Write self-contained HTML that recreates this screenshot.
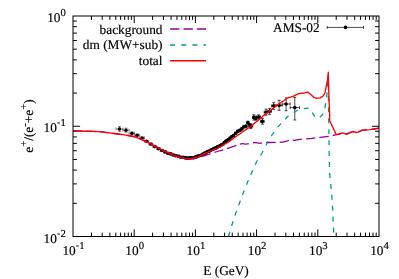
<!DOCTYPE html>
<html><head><meta charset="utf-8"><title>plot</title>
<style>html,body{margin:0;padding:0;background:#fff;}body{width:399px;height:279px;overflow:hidden;position:relative;font-family:"Liberation Serif",serif;}</style></head>
<body>
<svg width="399" height="279" viewBox="0 0 399 279" style="position:absolute;left:0;top:0">
<rect x="0" y="0" width="399" height="279" fill="#fff"/>
<path d="M91.42 236.5v-3.9M91.42 16.0v3.9M102.20 236.5v-3.9M102.20 16.0v3.9M109.85 236.5v-3.9M109.85 16.0v3.9M115.78 236.5v-3.9M115.78 16.0v3.9M120.62 236.5v-3.9M120.62 16.0v3.9M124.72 236.5v-3.9M124.72 16.0v3.9M128.27 236.5v-3.9M128.27 16.0v3.9M131.40 236.5v-3.9M131.40 16.0v3.9M134.20 236.5v-7.1M134.20 16.0v7.1M152.62 236.5v-3.9M152.62 16.0v3.9M163.40 236.5v-3.9M163.40 16.0v3.9M171.05 236.5v-3.9M171.05 16.0v3.9M176.98 236.5v-3.9M176.98 16.0v3.9M181.82 236.5v-3.9M181.82 16.0v3.9M185.92 236.5v-3.9M185.92 16.0v3.9M189.47 236.5v-3.9M189.47 16.0v3.9M192.60 236.5v-3.9M192.60 16.0v3.9M195.40 236.5v-7.1M195.40 16.0v7.1M213.82 236.5v-3.9M213.82 16.0v3.9M224.60 236.5v-3.9M224.60 16.0v3.9M232.25 236.5v-3.9M232.25 16.0v3.9M238.18 236.5v-3.9M238.18 16.0v3.9M243.02 236.5v-3.9M243.02 16.0v3.9M247.12 236.5v-3.9M247.12 16.0v3.9M250.67 236.5v-3.9M250.67 16.0v3.9M253.80 236.5v-3.9M253.80 16.0v3.9M256.60 236.5v-7.1M256.60 16.0v7.1M275.02 236.5v-3.9M275.02 16.0v3.9M285.80 236.5v-3.9M285.80 16.0v3.9M293.45 236.5v-3.9M293.45 16.0v3.9M299.38 236.5v-3.9M299.38 16.0v3.9M304.22 236.5v-3.9M304.22 16.0v3.9M308.32 236.5v-3.9M308.32 16.0v3.9M311.87 236.5v-3.9M311.87 16.0v3.9M315.00 236.5v-3.9M315.00 16.0v3.9M317.80 236.5v-7.1M317.80 16.0v7.1M336.22 236.5v-3.9M336.22 16.0v3.9M347.00 236.5v-3.9M347.00 16.0v3.9M354.65 236.5v-3.9M354.65 16.0v3.9M360.58 236.5v-3.9M360.58 16.0v3.9M365.42 236.5v-3.9M365.42 16.0v3.9M369.52 236.5v-3.9M369.52 16.0v3.9M373.07 236.5v-3.9M373.07 16.0v3.9M376.20 236.5v-3.9M376.20 16.0v3.9M73.0 93.06h3.9M379.0 93.06h-3.9M73.0 73.65h3.9M379.0 73.65h-3.9M73.0 59.87h3.9M379.0 59.87h-3.9M73.0 49.19h3.9M379.0 49.19h-3.9M73.0 40.46h3.9M379.0 40.46h-3.9M73.0 33.08h3.9M379.0 33.08h-3.9M73.0 26.68h3.9M379.0 26.68h-3.9M73.0 21.04h3.9M379.0 21.04h-3.9M73.0 126.25h7.1M379.0 126.25h-7.1M73.0 203.31h3.9M379.0 203.31h-3.9M73.0 183.90h3.9M379.0 183.90h-3.9M73.0 170.12h3.9M379.0 170.12h-3.9M73.0 159.44h3.9M379.0 159.44h-3.9M73.0 150.71h3.9M379.0 150.71h-3.9M73.0 143.33h3.9M379.0 143.33h-3.9M73.0 136.93h3.9M379.0 136.93h-3.9M73.0 131.29h3.9M379.0 131.29h-3.9" stroke="#000" stroke-width="1" fill="none"/>
<path d="M116.0 129.0H123.0M119.5 126.6V131.4M116.0 127.5v3M123.0 127.5v3M118.0 126.6h3M118.0 131.4h3M123.0 130.2H129.1M126.0 128.2V132.2M123.0 128.7v3M129.1 128.7v3M124.5 128.2h3M124.5 132.2h3M129.1 133.3H134.7M131.9 132.0V134.6M129.1 131.8v3M134.7 131.8v3M130.4 132.0h3M130.4 134.6h3M134.7 135.3H139.7M137.2 134.3V136.3M134.7 133.8v3M139.7 133.8v3M135.7 134.3h3M135.7 136.3h3M139.7 138.0H144.5M142.1 137.2V138.8M139.7 136.5v3M144.5 136.5v3M140.6 137.2h3M140.6 138.8h3M144.5 141.2H148.8M146.6 140.5V141.9M144.5 139.7v3M148.8 139.7v3M145.1 140.5h3M145.1 141.9h3M148.8 144.1H152.8M150.8 143.5V144.7M148.8 142.6v3M152.8 142.6v3M149.3 143.5h3M149.3 144.7h3M152.8 146.6H156.7M154.7 146.0V147.2M152.8 145.1v3M156.7 145.1v3M153.2 146.0h3M153.2 147.2h3M156.7 148.7H160.3M158.5 148.1V149.3M156.7 147.2v3M160.3 147.2v3M157.0 148.1h3M157.0 149.3h3M160.3 150.5H163.6M162.0 149.8V151.2M160.3 149.0v3M163.6 149.0v3M160.5 149.8h3M160.5 151.2h3M163.6 151.9H166.6M165.1 151.2V152.6M163.6 150.4v3M166.6 150.4v3M163.6 151.2h3M163.6 152.6h3M166.6 153.3H169.4M168.0 152.6V154.0M166.6 151.8v3M169.4 151.8v3M166.5 152.6h3M166.5 154.0h3M169.4 153.9H172.0M170.7 153.2V154.6M169.4 152.4v3M172.0 152.4v3M169.2 153.2h3M169.2 154.6h3M172.0 155.0H174.6M173.3 154.3V155.7M172.0 153.5v3M174.6 153.5v3M171.8 154.3h3M171.8 155.7h3M174.6 155.7H177.2M175.9 155.0V156.4M174.6 154.2v3M177.2 154.2v3M174.4 155.0h3M174.4 156.4h3M177.2 156.2H179.7M178.4 155.5V156.9M177.2 154.7v3M179.7 154.7v3M176.9 155.5h3M176.9 156.9h3M179.7 157.2H182.0M180.8 156.5V157.9M179.7 155.7v3M182.0 155.7v3M179.3 156.5h3M179.3 157.9h3M182.0 157.3H184.3M183.2 156.6V158.0M182.0 155.8v3M184.3 155.8v3M181.7 156.6h3M181.7 158.0h3M184.3 157.9H186.5M185.4 157.2V158.6M184.3 156.4v3M186.5 156.4v3M183.9 157.2h3M183.9 158.6h3M186.5 158.1H188.6M187.6 157.4V158.8M186.5 156.6v3M188.6 156.6v3M186.1 157.4h3M186.1 158.8h3M188.6 157.9H190.6M189.6 157.2V158.6M188.6 156.4v3M190.6 156.4v3M188.1 157.2h3M188.1 158.6h3M190.6 157.8H192.7M191.6 157.1V158.5M190.6 156.3v3M192.7 156.3v3M190.1 157.1h3M190.1 158.5h3M192.7 157.8H194.6M193.6 157.1V158.5M192.7 156.3v3M194.6 156.3v3M192.1 157.1h3M192.1 158.5h3M194.6 156.9H196.4M195.5 156.2V157.6M194.6 155.4v3M196.4 155.4v3M194.0 156.2h3M194.0 157.6h3M196.4 156.3H198.2M197.3 155.6V157.0M196.4 154.8v3M198.2 154.8v3M195.8 155.6h3M195.8 157.0h3M198.2 155.8H200.0M199.1 155.1V156.5M198.2 154.3v3M200.0 154.3v3M197.6 155.1h3M197.6 156.5h3M200.0 155.3H201.7M200.9 154.6V156.0M200.0 153.8v3M201.7 153.8v3M199.4 154.6h3M199.4 156.0h3M201.7 154.3H203.4M202.6 153.6V155.0M201.7 152.8v3M203.4 152.8v3M201.1 153.6h3M201.1 155.0h3M203.4 153.4H205.0M204.2 152.7V154.1M203.4 151.9v3M205.0 151.9v3M202.7 152.7h3M202.7 154.1h3M205.0 152.9H206.6M205.8 152.2V153.6M205.0 151.4v3M206.6 151.4v3M204.3 152.2h3M204.3 153.6h3M206.6 151.6H208.2M207.4 150.9V152.3M206.6 150.1v3M208.2 150.1v3M205.9 150.9h3M205.9 152.3h3M208.2 151.3H209.7M208.9 150.6V152.0M208.2 149.8v3M209.7 149.8v3M207.4 150.6h3M207.4 152.0h3M209.7 150.4H211.2M210.4 149.7V151.1M209.7 148.9v3M211.2 148.9v3M208.9 149.7h3M208.9 151.1h3M211.2 149.6H212.6M211.9 148.9V150.3M211.2 148.1v3M212.6 148.1v3M210.4 148.9h3M210.4 150.3h3M212.6 148.9H214.1M213.4 148.2V149.6M212.6 147.4v3M214.1 147.4v3M211.9 148.2h3M211.9 149.6h3M214.1 148.3H215.5M214.8 147.6V149.0M214.1 146.8v3M215.5 146.8v3M213.3 147.6h3M213.3 149.0h3M215.5 147.9H216.9M216.2 147.2V148.6M215.5 146.4v3M216.9 146.4v3M214.7 147.2h3M214.7 148.6h3M216.9 146.9H218.2M217.5 146.2V147.6M216.9 145.4v3M218.2 145.4v3M216.0 146.2h3M216.0 147.6h3M218.2 146.4H219.5M218.9 145.7V147.1M218.2 144.9v3M219.5 144.9v3M217.4 145.7h3M217.4 147.1h3M219.5 145.7H220.9M220.2 145.0V146.4M219.5 144.2v3M220.9 144.2v3M218.7 145.0h3M218.7 146.4h3M220.9 144.8H222.2M221.6 144.0V145.5M220.9 143.3v3M222.2 143.3v3M220.1 144.0h3M220.1 145.5h3M222.2 144.2H223.6M222.9 143.4V145.0M222.2 142.7v3M223.6 142.7v3M221.4 143.4h3M221.4 145.0h3M223.6 142.5H225.0M224.3 141.6V143.3M223.6 141.0v3M225.0 141.0v3M222.8 141.6h3M222.8 143.3h3M225.0 141.4H226.4M225.7 140.5V142.2M225.0 139.9v3M226.4 139.9v3M224.2 140.5h3M224.2 142.2h3M226.4 140.3H227.8M227.1 139.4V141.2M226.4 138.8v3M227.8 138.8v3M225.6 139.4h3M225.6 141.2h3M227.8 139.8H229.2M228.5 138.8V140.7M227.8 138.3v3M229.2 138.3v3M227.0 138.8h3M227.0 140.7h3M229.2 138.2H230.7M229.9 137.2V139.2M229.2 136.7v3M230.7 136.7v3M228.4 137.2h3M228.4 139.2h3M230.7 136.7H232.4M231.6 135.7V137.7M230.7 135.2v3M232.4 135.2v3M230.1 135.7h3M230.1 137.7h3M232.4 135.5H234.6M233.5 134.4V136.6M232.4 134.0v3M234.6 134.0v3M232.0 134.4h3M232.0 136.6h3M234.6 133.3H236.7M235.7 132.2V134.5M234.6 131.8v3M236.7 131.8v3M234.2 132.2h3M234.2 134.5h3M236.7 131.3H238.8M237.8 130.0V132.5M236.7 129.8v3M238.8 129.8v3M236.3 130.0h3M236.3 132.5h3M238.8 130.4H240.9M239.9 129.1V131.7M238.8 128.9v3M240.9 128.9v3M238.4 129.1h3M238.4 131.7h3M240.9 128.8H242.9M241.9 127.4V130.2M240.9 127.3v3M242.9 127.3v3M240.4 127.4h3M240.4 130.2h3M242.9 126.8H245.0M243.9 125.4V128.2M242.9 125.3v3M245.0 125.3v3M242.4 125.4h3M242.4 128.2h3M245.0 126.3H246.9M245.9 124.9V127.8M245.0 124.8v3M246.9 124.8v3M244.4 124.9h3M244.4 127.8h3" stroke="#000" stroke-width="0.45" fill="none"/><path d="M246.9 122.7H248.9M247.9 121.2V124.2M246.9 121.2v3M248.9 121.2v3M246.4 121.2h3M246.4 124.2h3M248.9 125.2H250.9M249.9 123.6V126.8M248.9 123.7v3M250.9 123.7v3M248.4 123.6h3M248.4 126.8h3M250.9 126.2H252.8M250.8 124.0V128.6M250.9 124.7v3M252.8 124.7v3M249.3 124.0h3M249.3 128.6h3M252.8 117.4H254.7M253.8 114.8V120.0M252.8 115.9v3M254.7 115.9v3M252.3 114.8h3M252.3 120.0h3M254.7 118.2H256.8M255.8 116.2V120.2M254.7 116.7v3M256.8 116.7v3M254.3 116.2h3M254.3 120.2h3M256.8 117.0H260.5M258.7 114.9V119.1M256.8 115.5v3M260.5 115.5v3M257.2 114.9h3M257.2 119.1h3M260.5 121.4H264.2M262.4 118.6V124.2M260.5 119.9v3M264.2 119.9v3M260.9 118.6h3M260.9 124.2h3M264.2 112.2H267.8M266.0 109.1V115.3M264.2 110.7v3M267.8 110.7v3M264.5 109.1h3M264.5 115.3h3M267.8 111.3H271.4M269.6 108.4V114.4M267.8 109.8v3M271.4 109.8v3M268.1 108.4h3M268.1 114.4h3M271.4 105.9H276.0M273.7 102.6V109.4M271.4 104.4v3M276.0 104.4v3M272.2 102.6h3M272.2 109.4h3M276.0 105.4H282.2M279.1 100.3V110.3M276.0 103.9v3M282.2 103.9v3M277.6 100.3h3M277.6 110.3h3M282.2 104.0H290.1M286.1 97.9V110.7M282.2 102.5v3M290.1 102.5v3M284.6 97.9h3M284.6 110.7h3M290.1 107.6H299.6M294.8 97.3V120.0M290.1 106.1v3M299.6 106.1v3M293.3 97.3h3M293.3 120.0h3" stroke="#000" stroke-width="0.7" fill="none"/><g fill="#000"><circle cx="119.5" cy="129.0" r="1.8"/><circle cx="126.0" cy="130.2" r="1.8"/><circle cx="131.9" cy="133.3" r="1.8"/><circle cx="137.2" cy="135.3" r="1.8"/><circle cx="142.1" cy="138.0" r="1.8"/><circle cx="146.6" cy="141.2" r="1.8"/><circle cx="150.8" cy="144.1" r="1.8"/><circle cx="154.7" cy="146.6" r="1.8"/><circle cx="158.5" cy="148.7" r="1.8"/><circle cx="162.0" cy="150.5" r="1.8"/><circle cx="165.1" cy="151.9" r="1.8"/><circle cx="168.0" cy="153.3" r="1.8"/><circle cx="170.7" cy="153.9" r="1.8"/><circle cx="173.3" cy="155.0" r="1.8"/><circle cx="175.9" cy="155.7" r="1.8"/><circle cx="178.4" cy="156.2" r="1.8"/><circle cx="180.8" cy="157.2" r="1.8"/><circle cx="183.2" cy="157.3" r="1.8"/><circle cx="185.4" cy="157.9" r="1.8"/><circle cx="187.6" cy="158.1" r="1.8"/><circle cx="189.6" cy="157.9" r="1.8"/><circle cx="191.6" cy="157.8" r="1.8"/><circle cx="193.6" cy="157.8" r="1.8"/><circle cx="195.5" cy="156.9" r="1.8"/><circle cx="197.3" cy="156.3" r="1.8"/><circle cx="199.1" cy="155.8" r="1.8"/><circle cx="200.9" cy="155.3" r="1.8"/><circle cx="202.6" cy="154.3" r="1.8"/><circle cx="204.2" cy="153.4" r="1.8"/><circle cx="205.8" cy="152.9" r="1.8"/><circle cx="207.4" cy="151.6" r="1.8"/><circle cx="208.9" cy="151.3" r="1.8"/><circle cx="210.4" cy="150.4" r="1.8"/><circle cx="211.9" cy="149.6" r="1.8"/><circle cx="213.4" cy="148.9" r="1.8"/><circle cx="214.8" cy="148.3" r="1.8"/><circle cx="216.2" cy="147.9" r="1.8"/><circle cx="217.5" cy="146.9" r="1.8"/><circle cx="218.9" cy="146.4" r="1.8"/><circle cx="220.2" cy="145.7" r="1.8"/><circle cx="221.6" cy="144.8" r="1.8"/><circle cx="222.9" cy="144.2" r="1.8"/><circle cx="224.3" cy="142.5" r="1.8"/><circle cx="225.7" cy="141.4" r="1.8"/><circle cx="227.1" cy="140.3" r="1.8"/><circle cx="228.5" cy="139.8" r="1.8"/><circle cx="229.9" cy="138.2" r="1.8"/><circle cx="231.6" cy="136.7" r="1.8"/><circle cx="233.5" cy="135.5" r="1.8"/><circle cx="235.7" cy="133.3" r="1.8"/><circle cx="237.8" cy="131.3" r="1.8"/><circle cx="239.9" cy="130.4" r="1.8"/><circle cx="241.9" cy="128.8" r="1.8"/><circle cx="243.9" cy="126.8" r="1.8"/><circle cx="245.9" cy="126.3" r="1.8"/><circle cx="247.9" cy="122.7" r="1.8"/><circle cx="249.9" cy="125.2" r="1.8"/><circle cx="250.8" cy="126.2" r="1.8"/><circle cx="253.8" cy="117.4" r="1.8"/><circle cx="255.8" cy="118.2" r="1.8"/><circle cx="258.7" cy="117.0" r="1.8"/><circle cx="262.4" cy="121.4" r="1.8"/><circle cx="266.0" cy="112.2" r="1.8"/><circle cx="269.6" cy="111.3" r="1.8"/><circle cx="273.7" cy="105.9" r="1.8"/><circle cx="279.1" cy="105.4" r="1.8"/><circle cx="286.1" cy="104.0" r="1.8"/><circle cx="294.8" cy="107.6" r="1.8"/></g>
<path d="M73.00 130.90C76.35 130.98 87.67 131.17 93.10 131.40C98.53 131.63 101.45 131.87 105.60 132.30C109.75 132.73 114.43 133.50 118.00 134.00C121.57 134.50 124.17 134.82 127.00 135.30C129.83 135.78 132.50 136.18 135.00 136.90C137.50 137.62 139.90 138.70 142.00 139.60C144.10 140.50 145.27 141.13 147.60 142.30C149.93 143.47 153.52 145.30 156.00 146.60C158.48 147.90 160.33 149.00 162.50 150.10C164.67 151.20 166.90 152.27 169.00 153.20C171.10 154.13 173.10 154.95 175.10 155.70C177.10 156.45 178.92 157.15 181.00 157.70C183.08 158.25 185.60 158.83 187.60 159.00C189.60 159.17 190.93 159.00 193.00 158.70C195.07 158.40 197.90 157.75 200.00 157.20C202.10 156.65 203.40 156.13 205.60 155.40C207.80 154.67 211.00 153.53 213.20 152.80C215.40 152.07 216.83 151.60 218.80 151.00C220.77 150.40 222.30 150.05 225.00 149.20C227.70 148.35 232.70 146.70 235.00 145.90C237.30 145.10 237.55 144.78 238.80 144.40C240.05 144.02 241.38 143.63 242.50 143.60C243.62 143.57 244.62 144.17 245.50 144.20C246.38 144.23 246.80 144.00 247.80 143.80C248.80 143.60 250.25 143.20 251.50 143.00C252.75 142.80 253.92 142.55 255.30 142.60C256.68 142.65 258.30 143.30 259.80 143.30C261.30 143.30 262.60 142.73 264.30 142.60C266.00 142.47 267.73 142.55 270.00 142.50C272.27 142.45 275.97 142.35 277.90 142.30C279.83 142.25 280.23 142.38 281.60 142.20C282.97 142.02 284.60 141.55 286.10 141.20C287.60 140.85 289.22 140.25 290.60 140.10C291.98 139.95 292.83 140.42 294.40 140.30C295.97 140.18 297.61 139.67 300.00 139.40C302.39 139.13 305.75 139.02 308.75 138.70C311.75 138.38 314.62 137.90 318.00 137.50C321.38 137.10 325.95 136.78 329.00 136.30C332.05 135.82 334.63 134.95 336.30 134.60C337.97 134.25 337.95 134.48 339.00 134.20C340.05 133.92 341.38 132.90 342.60 132.90C343.82 132.90 344.63 134.42 346.30 134.20C347.97 133.98 350.82 131.88 352.60 131.60C354.38 131.32 355.33 132.75 357.00 132.50C358.67 132.25 360.43 130.58 362.60 130.10C364.77 129.62 367.27 129.92 370.00 129.60C372.73 129.28 377.50 128.43 379.00 128.20" fill="none" stroke="#990099" stroke-width="1.3" stroke-linejoin="round" stroke-dasharray="9.3 4.1"/>
<path d="M228.40 236.50C228.96 234.67 230.65 229.00 231.75 225.50C232.85 222.00 233.83 218.92 235.00 215.50C236.17 212.08 237.50 208.42 238.75 205.00C240.00 201.58 241.17 198.46 242.50 195.00C243.83 191.54 245.29 187.79 246.75 184.25C248.21 180.71 249.67 177.38 251.25 173.75C252.83 170.12 254.46 165.96 256.25 162.50C258.04 159.04 260.01 156.54 262.00 153.00C263.99 149.46 266.20 144.75 268.20 141.25C270.20 137.75 272.27 134.53 274.00 132.00C275.73 129.47 277.25 127.67 278.60 126.10C279.95 124.53 280.85 123.92 282.10 122.60C283.35 121.28 284.85 119.47 286.10 118.20C287.35 116.93 288.03 116.12 289.60 115.00C291.17 113.88 293.85 112.43 295.50 111.50C297.15 110.57 297.83 109.93 299.50 109.40C301.17 108.87 303.83 108.52 305.50 108.30L309.50 108.10L311.20 110.50L313.00 114.00L315.60 117.50L318.20 118.60L321.60 115.60L324.60 112.00L325.20 105.50L326.10 101.50L327.30 90.70L328.20 75.00L328.60 110.00L328.90 130.00L329.20 155.00L329.60 173.00L330.75 184.00L331.75 195.00L332.50 206.00L333.00 218.00L333.60 230.00L333.90 236.50" fill="none" stroke="#009999" stroke-width="1.3" stroke-linejoin="round" stroke-dasharray="5 5.95"/>
<path d="M73.00 130.90C76.35 130.98 87.67 131.17 93.10 131.40C98.53 131.63 101.45 131.87 105.60 132.30C109.75 132.73 114.43 133.50 118.00 134.00C121.57 134.50 124.17 134.82 127.00 135.30C129.83 135.78 132.50 136.18 135.00 136.90C137.50 137.62 139.90 138.70 142.00 139.60C144.10 140.50 145.27 141.13 147.60 142.30C149.93 143.47 153.52 145.30 156.00 146.60C158.48 147.90 160.33 149.00 162.50 150.10C164.67 151.20 166.90 152.27 169.00 153.20C171.10 154.13 173.10 154.97 175.10 155.70C177.10 156.43 178.92 157.08 181.00 157.60C183.08 158.12 185.43 158.75 187.60 158.80C189.77 158.85 191.93 158.40 194.00 157.90C196.07 157.40 197.75 156.73 200.00 155.80C202.25 154.87 205.17 153.33 207.50 152.30C209.83 151.27 211.92 150.52 214.00 149.60C216.08 148.68 218.17 147.73 220.00 146.80C221.83 145.87 223.33 144.98 225.00 144.00C226.67 143.02 228.33 142.02 230.00 140.90C231.67 139.78 233.33 138.48 235.00 137.30C236.67 136.12 238.33 134.98 240.00 133.80C241.67 132.62 243.33 131.33 245.00 130.20C246.67 129.07 248.33 128.23 250.00 127.00C251.67 125.77 253.33 124.17 255.00 122.80C256.67 121.43 258.50 120.05 260.00 118.80C261.50 117.55 262.33 116.67 264.00 115.30C265.67 113.93 268.17 112.03 270.00 110.60C271.83 109.17 273.33 107.93 275.00 106.70C276.67 105.47 278.33 104.37 280.00 103.20C281.67 102.03 283.57 100.63 285.00 99.70C286.43 98.77 287.25 98.15 288.60 97.60C289.95 97.05 291.40 97.07 293.10 96.40C294.80 95.73 297.02 94.13 298.80 93.60C300.58 93.07 302.23 93.42 303.80 93.20C305.37 92.98 307.05 92.08 308.20 92.30L310.70 94.50L313.80 97.30L316.90 98.40L320.10 97.90L323.40 95.70L325.10 92.50L326.30 86.00L327.60 80.00L328.30 72.20L328.55 82.00L328.85 95.00L329.60 112.00L329.70 120.70L333.00 127.80L336.30 134.60L339.00 134.20L342.60 132.90L346.30 134.20L352.60 131.60L357.00 132.50L362.60 130.10L370.00 129.60L374.00 129.20L379.00 128.20" fill="none" stroke="#ff0000" stroke-width="1.35" stroke-linejoin="round"/>
<rect x="73.0" y="16.0" width="306.0" height="220.5" fill="none" stroke="#000" stroke-width="1"/>
<g font-family="'Liberation Serif', serif" fill="#000" stroke="#000" stroke-width="0.17" text-rendering="geometricPrecision" style="filter:grayscale(1)">
<text x="65.8" y="21.50" text-anchor="end" font-size="13.33">10<tspan font-size="10.67" dy="-5.8">0</tspan></text>
<text x="65.8" y="131.85" text-anchor="end" font-size="13.33">10<tspan font-size="8.6" dx="0.35" dy="-6.90">-</tspan><tspan font-size="10.67" dx="0.35" dy="1.1">1</tspan></text>
<text x="65.8" y="242.50" text-anchor="end" font-size="13.33">10<tspan font-size="8.6" dx="0.35" dy="-6.90">-</tspan><tspan font-size="10.67" dx="0.35" dy="1.1">2</tspan></text>
<text x="73.5" y="255.15" text-anchor="middle" font-size="13.33">10<tspan font-size="8.6" dx="0.35" dy="-7.20">-</tspan><tspan font-size="10.67" dx="0.35" dy="1.1">1</tspan></text>
<text x="134.7" y="255.15" text-anchor="middle" font-size="13.33">10<tspan font-size="10.67" dy="-6.1">0</tspan></text>
<text x="195.9" y="255.15" text-anchor="middle" font-size="13.33">10<tspan font-size="10.67" dy="-6.1">1</tspan></text>
<text x="257.1" y="255.15" text-anchor="middle" font-size="13.33">10<tspan font-size="10.67" dy="-6.1">2</tspan></text>
<text x="318.3" y="255.15" text-anchor="middle" font-size="13.33">10<tspan font-size="10.67" dy="-6.1">3</tspan></text>
<text x="379.5" y="255.15" text-anchor="middle" font-size="13.33">10<tspan font-size="10.67" dy="-6.1">4</tspan></text>
<text x="226" y="274.5" text-anchor="middle" font-size="13.33">E (GeV)</text>
<text transform="translate(32.6,126) rotate(-90)" text-anchor="middle" font-size="13.33">e<tspan font-size="10.67" dy="-5.4">+</tspan><tspan dy="5.4">/(e</tspan><tspan font-size="10.67" dy="-5.0">-</tspan><tspan dy="5.8">+</tspan><tspan dy="-0.8">e</tspan><tspan font-size="10.67" dy="-5.4">+</tspan><tspan dy="5.4">)</tspan></text>
<text x="162.5" y="33.6" text-anchor="end" font-size="13.33">background</text>
<text x="162.5" y="49.3" text-anchor="end" font-size="13.33">dm (MW+sub)</text>
<text x="162.5" y="65.4" text-anchor="end" font-size="13.33">total</text>
<text x="319.7" y="32.1" text-anchor="end" font-size="13.33">AMS-02</text>
</g>
<path d="M170.1 29.0L206.0 29.0" fill="none" stroke="#990099" stroke-width="1.5" stroke-linejoin="round" stroke-dasharray="9.3 4.1"/>
<path d="M170.1 45.0L206.0 45.0" fill="none" stroke="#009999" stroke-width="1.5" stroke-linejoin="round" stroke-dasharray="5 6.15"/>
<path d="M170.1 60.8L206.0 60.8" fill="none" stroke="#ff0000" stroke-width="1.4" stroke-linejoin="round"/>
<path d="M327.2 27.4H363.5M327.2 25.9v3M363.5 25.9v3" stroke="#000" stroke-width="0.7" fill="none"/><circle cx="345.5" cy="27.4" r="1.8" fill="#000"/>
</svg>
</body></html>
